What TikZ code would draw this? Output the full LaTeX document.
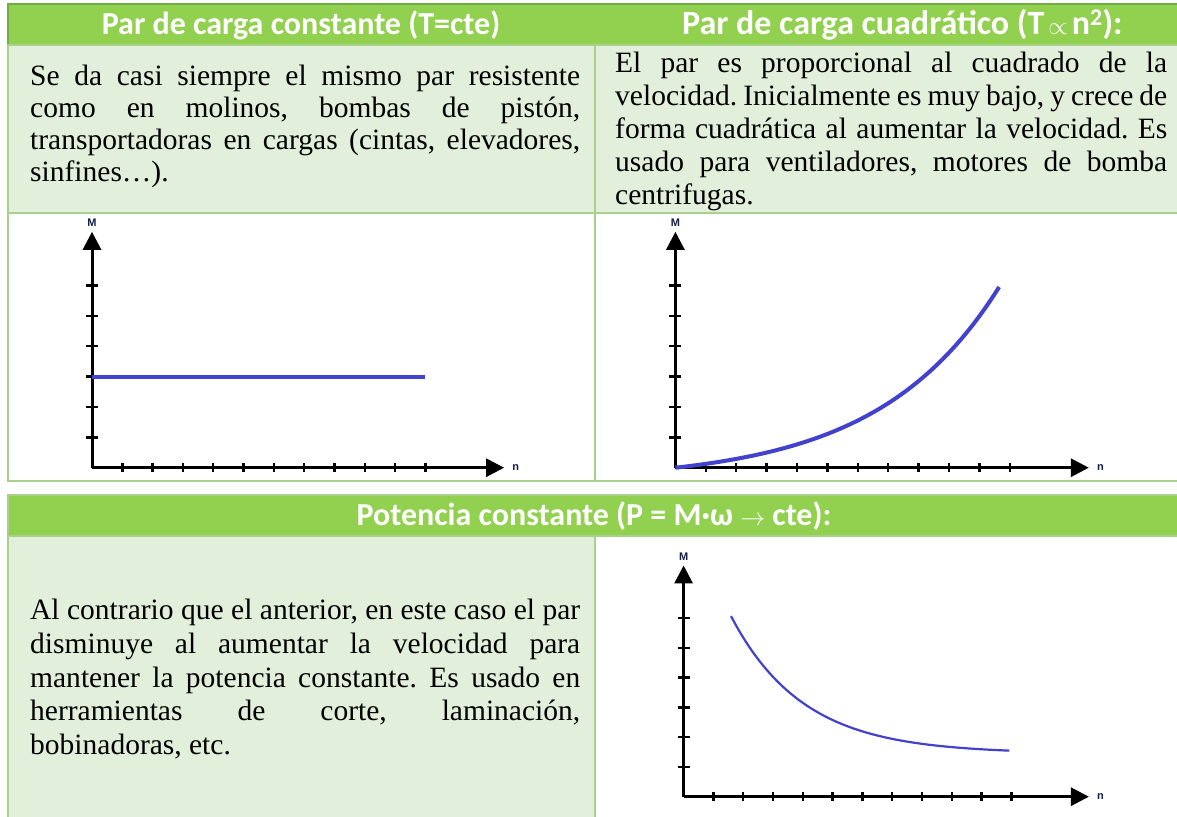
\documentclass[tikz,border=0pt]{standalone}
\usepackage{fontspec}
\setmainfont{Liberation Serif}
\newfontfamily\hdrfont{Carlito}
\newfontfamily\axfont{Liberation Sans}
\usetikzlibrary{arrows.meta}
\hyphenpenalty=10000
\exhyphenpenalty=10000
\tolerance=10000
\frenchspacing
\definecolor{hdrgreen}{HTML}{92D050}
\definecolor{rimgreen}{HTML}{A9D18E}
\definecolor{darkrim}{HTML}{70AD47}
\definecolor{cellgreen}{HTML}{E2EFDA}
\definecolor{curveblue}{RGB}{66,66,206}
\tikzset{
  hdr/.style={font=\hdrfont\bfseries\fontsize{32}{38}\selectfont, text=white, inner sep=0pt},
  body/.style={text width=550pt, align=justify, inner sep=0pt, anchor=north west},
  axis/.style={line width=3pt, -{Triangle[length=18pt,width=18pt]}},
  tick/.style={line width=2.4pt},
  axlabel/.style={font=\axfont\bfseries\fontsize{11}{13}\selectfont, text={rgb,255:red,20;green,30;blue,70}, inner sep=0pt},
  graphaxes/.pic={
    \coordinate (-o) at (0,0);
    \coordinate (-xend) at (13.6,0);
    \coordinate (-yend) at (0,7.76);
    \foreach \i in {1,...,11}
      \draw[tick] ([yshift=4.5pt]\i,0) -- ([yshift=-4.5pt]\i,0);
    \foreach \j in {1,...,6}
      \draw[tick] ([xshift=-6pt]0,\j) -- ([xshift=6pt]0,\j);
    \draw[axis] (-o) -- (-xend);
    \draw[axis] (-o) -- (-yend);
    \node[axlabel] (-m) at ([yshift=9pt]-yend) {M};
    \node[axlabel, anchor=west] (-n) at ([xshift=8pt]-xend) {n};
  }
}
\begin{document}
\begin{tikzpicture}[x=1pt,y=-1pt]
\useasboundingbox (0,0) rectangle (1177,816);
\clip (0,0) rectangle (1177,816);
% table frames
\draw[darkrim, line width=1.5pt, fill=hdrgreen] (8,4) rectangle (1190,45);
\draw[rimgreen, line width=2pt, fill=cellgreen] (8,45) rectangle (595,213);
\draw[rimgreen, line width=2pt, fill=cellgreen] (595,45) rectangle (1190,213);
\draw[rimgreen, line width=2pt, fill=white] (8,213) rectangle (595,481);
\draw[rimgreen, line width=2pt, fill=white] (595,213) rectangle (1190,481);
\draw[rimgreen, line width=2pt, fill=hdrgreen] (8,495) rectangle (1190,536);
\draw[rimgreen, line width=2pt, fill=cellgreen] (8,536) rectangle (595,830);
\draw[rimgreen, line width=2pt, fill=white] (595,536) rectangle (1190,830);
% headers
\node[hdr] (hconst) at (301,25) {Par de carga constante (T=cte)};
\node[hdr, anchor=west, font=\hdrfont\bfseries\fontsize{34}{40}\selectfont] (hquad) at (682,25)
  {Par de carga cuadrático (T\hspace{4pt}$\propto$\hspace{4pt}n\textsuperscript{2}):};
\node[hdr] (hpow) at (594,516) {Potencia constante (P = M·ω $\rightarrow$ cte):};
% texts
\node[body, font=\fontsize{29.5}{32}\selectfont] (tconst) at (30,65)
  {Se da casi siempre el mismo par resistente\linebreak
   como en molinos, bombas de pistón,\linebreak
   transportadoras en cargas (cintas, elevadores,\linebreak
   sinfines…).};
\node[body, text width=552pt, font=\fontsize{29.5}{33}\selectfont] (tquad) at (615,52)
  {El par es proporcional al cuadrado de la\linebreak
   velocidad. Inicialmente es muy bajo, y crece de\linebreak
   forma cuadrática al aumentar la velocidad. Es\linebreak
   usado para ventiladores, motores de bomba\linebreak
   centrifugas.};
\node[body, font=\fontsize{29.5}{33.7}\selectfont] (tpow) at (30,599)
  {Al contrario que el anterior, en este caso el par\linebreak
   disminuye al aumentar la velocidad para\linebreak
   mantener la potencia constante. Es usado en\linebreak
   herramientas de corte, laminación,\linebreak
   bobinadoras, etc.};
% graphs
\begin{scope}[shift={(92pt,-467.7pt)}, x=30.3pt, y=30.4pt]
  \pic (gconst) at (0,0) {graphaxes};
  \draw[curveblue, line width=4pt] (0,3) -- (11,3);
\end{scope}
\begin{scope}[shift={(675.4pt,-467.7pt)}, x=30.4pt, y=30.4pt]
  \pic (gquad) at (0,0) {graphaxes};
  \draw[curveblue, line width=4pt] plot[domain=0:10.65, samples=60, smooth]
    (\x,{0.446*(exp(0.25*\x)-1)});
\end{scope}
\begin{scope}[shift={(683.6pt,-796.7pt)}, x=29.8pt, y=29.8pt]
  \pic (gpow) at (0,0) {graphaxes};
  \draw[curveblue, line width=2.2pt] plot[domain=1.59:10.93, samples=60, smooth]
    (\x,{1.45+4.61*exp(-0.414*(\x-1.59))});
\end{scope}
\end{tikzpicture}
\end{document}
